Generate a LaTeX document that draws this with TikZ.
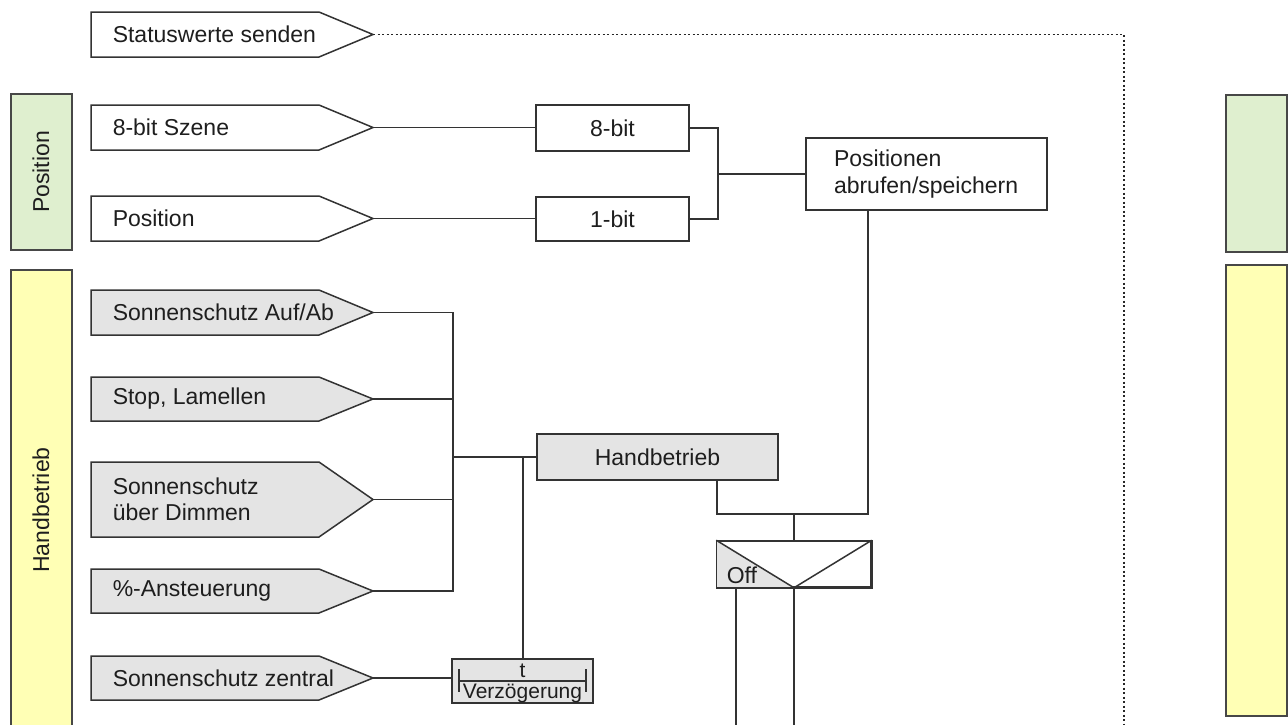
\documentclass[tikz,border=0pt]{standalone}
\usepackage{fontspec}
\setmainfont{Liberation Sans}
\definecolor{linec}{HTML}{333333}
\definecolor{txt}{HTML}{1E1E1E}
\definecolor{grayfill}{HTML}{E4E4E4}
\definecolor{greenfill}{HTML}{DFEFCF}
\definecolor{yellowfill}{HTML}{FFFFB5}
\newcommand\diafont{\fontsize{23}{26.5}\selectfont}
\newcommand\smallfont{\fontsize{21}{24}\selectfont}
% input arrow: name, top y, bottom y, fill, text
\newcommand\inputarrow[5]{%
  \path[arrowshape, fill=#4] (91,#2) -- (319,#2) -- (373,{(#2+#3)/2}) -- (319,#3) -- (91,#3) -- cycle;
  \node[intext, anchor=west] (#1) at (112,{(#2+#3)/2}) {#5};
  \coordinate (#1-tip) at (373,{(#2+#3)/2});
}
\begin{document}
\begin{tikzpicture}[x=1pt,y=-1pt,line width=1.5pt,
  arrowshape/.style={draw=linec, line width=1.5pt},
  intext/.style={font=\diafont, text=txt, align=left, inner sep=0pt},
  box/.style={draw=linec, line width=1.5pt, fill=white, font=\diafont, text=txt, inner sep=0pt},
  bar/.style={draw=linec!90, line width=1.6pt},
  barlabel/.style={font=\diafont, text=txt, rotate=90},
  conn/.style={draw=linec, line width=1.5pt},
  dotline/.style={draw=black!85, line width=1.7pt, dash pattern=on 2pt off 2.5pt}]
\useasboundingbox (0,0) rectangle (1288,724);

% side bars
\draw[bar, fill=greenfill] (11,94) rectangle (72,250);
\node[barlabel] (lblpos) at (41,172) {Position};
\draw[bar, fill=yellowfill] (11,270) -- (11,740) -- (72,740) -- (72,270) -- cycle;
\node[barlabel] (lblhand) at (41,510) {Handbetrieb};
\draw[bar, fill=greenfill] (1226,95) rectangle (1287,252);
\draw[bar, fill=yellowfill] (1226,265) rectangle (1287,716);

% inputs
\inputarrow{stat}{12}{57}{white}{Statuswerte senden}
\inputarrow{szene}{105}{150}{white}{8-bit Szene}
\inputarrow{posin}{196}{241}{white}{Position}
\inputarrow{aufab}{290}{335}{grayfill}{Sonnenschutz Auf/Ab}
\inputarrow{stop}{377}{421}{grayfill}{Stop, Lamellen}
\inputarrow{dimm}{462}{537}{grayfill}{Sonnenschutz\\über Dimmen}
\inputarrow{proz}{569}{613}{grayfill}{\%-Ansteuerung}
\inputarrow{zentral}{656}{700}{grayfill}{Sonnenschutz zentral}

% function blocks
\node[box, minimum width=153, minimum height=46] (b8) at (612.5,128) {8-bit};
\node[box, minimum width=153, minimum height=44] (b1) at (612.5,219) {1-bit};
\node[box, minimum width=241, minimum height=72, text width=185, inner xsep=28, align=left]
  (pos) at (926.5,174) {Positionen\\abrufen/speichern};
\node[box, fill=grayfill, minimum width=241, minimum height=46] (hb) at (657.5,457) {Handbetrieb};
\node[box, fill=grayfill, minimum width=141, minimum height=44] (delay) at (522.5,681) {};
\node[box, minimum width=154, minimum height=46] (sw) at (794,564) {};

% delay symbol
\draw[conn] (459,669) -- (459,692);
\draw[conn] (586,669) -- (586,692);
\draw[conn] (459,681) -- (586,681);
\node[font=\smallfont, text=txt, anchor=base, inner sep=0pt] (tlabel) at (522.5,677) {t};
\node[font=\smallfont, text=txt, anchor=base, inner sep=0pt] (dlabel) at (522.5,698) {Verzögerung};

% switch symbol
\fill[grayfill] (sw.north west) -- (sw.south) -- (sw.south west) -- cycle;
\draw[conn] (sw.north west) rectangle (sw.south east);
\draw[conn] (sw.north west) -- (sw.south) -- (sw.north east);
\node[font=\diafont, text=txt, anchor=base west, inner sep=0pt] (off) at (726,583) {Off};

% helper points
\coordinate (jpos) at (718,174);
\coordinate (busx) at (453,457);
\coordinate (tx) at (523,457);
\coordinate (hbout) at (717,480);
\coordinate (pj) at (868,514);
\coordinate (jm) at (794,514);
\coordinate (o1) at (736,730);
\coordinate (dotend) at (1124,730);

% connectors
\draw[dotline] (stat-tip) -| (dotend);
\draw[conn] (szene-tip) -- (szene-tip -| b8.west);
\draw[conn] (posin-tip) -- (posin-tip -| b1.west);
\draw[conn] (b8.east) -| (jpos) |- (b1.east);
\draw[conn] (jpos) -- (jpos -| pos.west);
\draw[conn] (aufab-tip) -| (busx) |- (proz-tip);
\draw[conn] (stop-tip) -- (stop-tip -| busx);
\draw[conn] (dimm-tip) -- (dimm-tip -| busx);
\draw[conn] (busx) -- (hb.west);
\draw[conn] (tx) -- (tx |- delay.north);
\draw[conn] (zentral-tip) -- (zentral-tip -| delay.west);
\draw[conn] (hbout) |- (pj) -- (pj |- pos.south);
\draw[conn] (jm) -- (sw.north);
\draw[conn] (sw.south -| o1) -- (o1);
\draw[conn] (sw.south) -- (sw.south |- o1);
\end{tikzpicture}
\end{document}
